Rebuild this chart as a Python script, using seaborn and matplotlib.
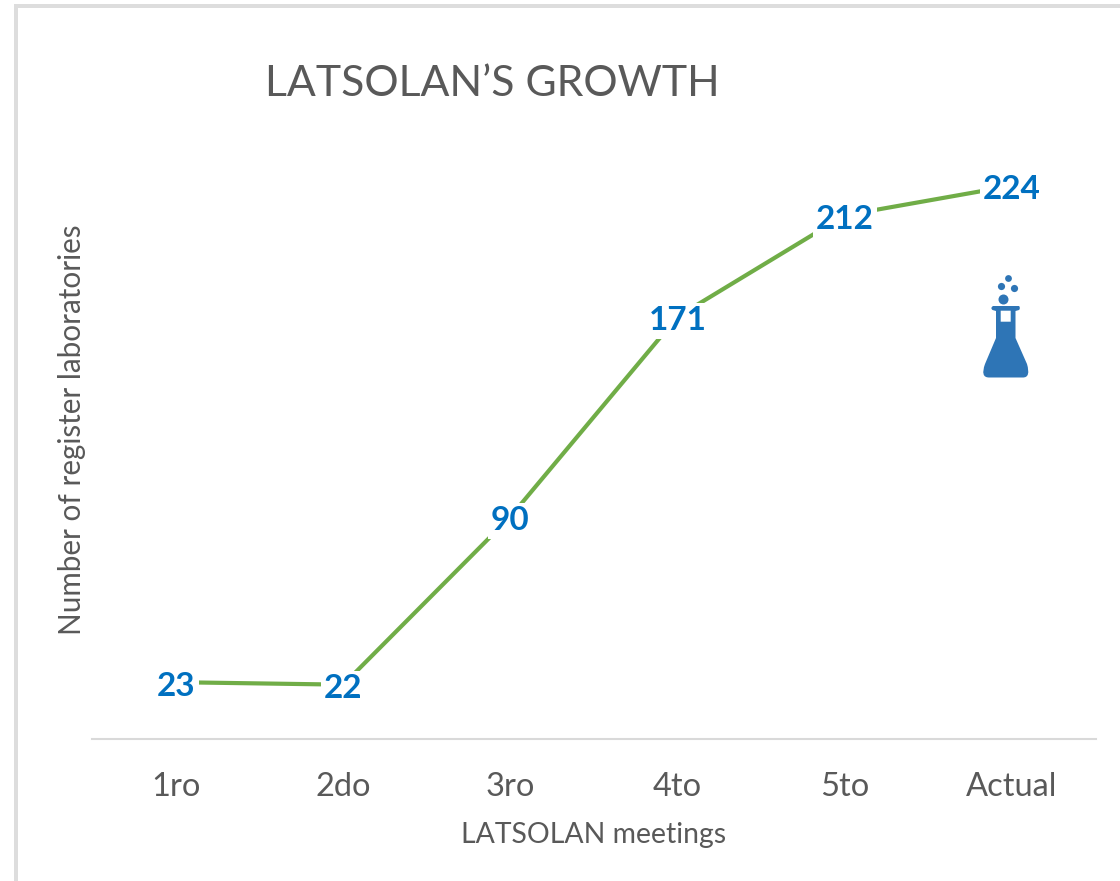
#!/usr/bin/env python3

import pandas as pd
from matplotlib import pyplot as plt
from matplotlib.patches import PathPatch, Rectangle
from matplotlib.path import Path
import seaborn as sns

meetings = ["1ro", "2do", "3ro", "4to", "5to", "Actual"]
laboratories = [23, 22, 90, 171, 212, 224]

W, H = 1120, 881

sns.set_theme(style="white")
plt.rcParams["font.family"] = ["Lato", "DejaVu Sans"]

df = pd.DataFrame({"meeting": meetings, "labs": laboratories})

fig = plt.figure(figsize=(W / 100, H / 100), dpi=100)
ax = fig.add_axes([92.4 / W, 1 - 739 / H, 1003.2 / W, 617.5 / H])

sns.lineplot(data=df, x="meeting", y="labs", color="#70AD47", linewidth=3, sort=False, ax=ax)

ax.set_xlim(-0.5, 5.5)
ax.set_ylim(0, 250)
ax.set_yticks([])
sns.despine(ax=ax, left=True)
ax.spines["bottom"].set_color("#D9D9D9")
ax.spines["bottom"].set_linewidth(1.5)
ax.tick_params(axis="x", length=0, pad=24, labelsize=23.5, labelcolor="#595959")
ax.set_xlabel("")
ax.set_ylabel("")

# data labels sit on the line with a white box behind them
for i, v in enumerate(laboratories):
    ax.annotate(str(v), (i, v), xytext=(0, -3), textcoords="offset points", ha="center", va="center",
                fontsize=24, fontweight="bold", color="#0070C0",
                bbox={"facecolor": "white", "edgecolor": "none", "pad": 2.5})

fig.text(265 / W, 1 - 84 / H, "LATSOLAN’S GROWTH", ha="left", va="center", fontsize=30.8, color="#595959")
fig.text(594 / W, 1 - 835 / H, "LATSOLAN meetings", ha="center", va="center", fontsize=20.4, color="#595959")
fig.text(72 / W, 1 - 430 / H, "Number of register laboratories", ha="center", va="center",
         rotation=90, fontsize=21.3, color="#595959")


# everything below is placed in image pixels
def px(x, y):
    return x / W, 1 - y / H


# outer frame, only top and left are visible
fig.add_artist(Rectangle(px(14, 881), 4 / W, 877 / H, transform=fig.transFigure, color="#DDDDDD", lw=0))
fig.add_artist(Rectangle(px(14, 8), 1106 / W, 4 / H, transform=fig.transFigure, color="#DDDDDD", lw=0))

# flask icon, rounded at lip and foot
icon = "#2E75B6"
L, C = Path.LINETO, Path.CURVE3
outline = [(993, 306, Path.MOVETO), (1019, 306, L), (1021, 308, C), (1019, 310, C), (1015.5, 311, L),
           (1015.5, 338, L), (1027, 364, L), (1031, 377.5, C), (1023, 377.5, C), (989, 377.5, L),
           (980, 377.5, C), (985, 364, C), (996, 338, L), (996, 311, L), (992.5, 310, L), (990, 308, C),
           (993, 306, C)]
window = [(1000.7, 310.7, Path.MOVETO), (1000.7, 321.7, L), (1010.7, 321.7, L), (1010.7, 310.7, L),
          (1000.7, 310.7, L)]
shape = outline + window
fig.add_artist(PathPatch(Path([px(p[0], p[1]) for p in shape], [p[2] for p in shape]),
                         transform=fig.transFigure, facecolor=icon, edgecolor="none"))
for bx, by, r in [(1007.7, 277.7, 3.4), (1000.7, 286, 3.6), (1013.7, 288.3, 3.6), (1003, 299, 5)]:
    fig.add_artist(plt.Line2D([bx / W], [1 - by / H], transform=fig.transFigure, marker="o",
                              markersize=2 * r * 0.72, color=icon, markeredgewidth=0))

fig.savefig("out.png", dpi=100)
